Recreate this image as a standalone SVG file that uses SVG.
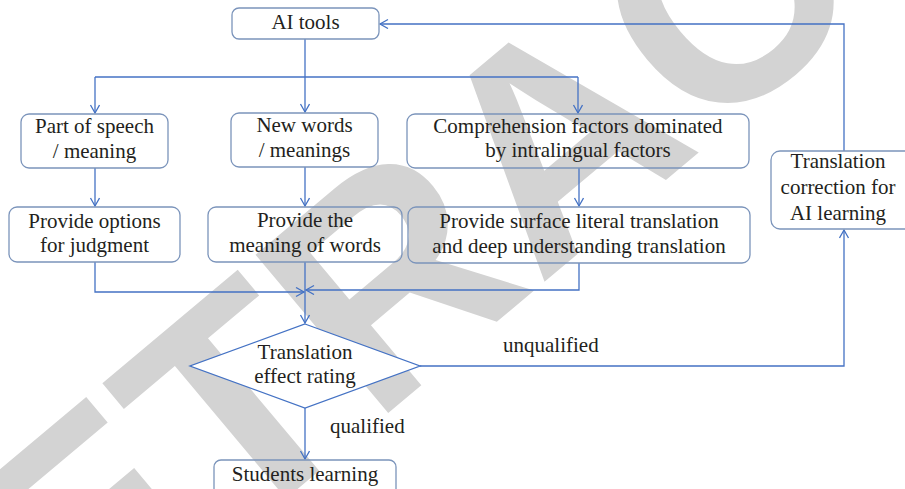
<svg xmlns="http://www.w3.org/2000/svg" width="905" height="489" viewBox="0 0 905 489">
<defs>
<style>
.box{fill:none;stroke:#7b94bb;stroke-width:1.3}
.t{font-family:'Liberation Serif','DejaVu Serif',serif;font-size:21px;fill:#231f20;text-anchor:middle}
.lbl{font-family:'Liberation Serif','DejaVu Serif',serif;font-size:21px;fill:#231f20}
.c{fill:none;stroke:#4472c4;stroke-width:1.3}
.wm{font-family:'Liberation Sans',sans-serif;font-weight:bold;font-size:300px;fill:#d3d3d3;text-anchor:middle}
</style>
<marker id="ah" markerUnits="userSpaceOnUse" markerWidth="12" markerHeight="12" refX="9" refY="5" orient="auto">
<path d="M1,0.5 L9,5 L1,9.5" fill="none" stroke="#4472c4" stroke-width="1.3"/>
</marker>
</defs>
<rect width="905" height="489" fill="#ffffff"/>
<g id="watermark" transform="translate(553,135) rotate(-40)">
<text class="wm" x="0" y="107">RETRACTED</text>
</g>
<g id="connectors">
<polyline class="c" points="305,39 305,77"/>
<polyline class="c" points="95,77 578,77"/>
<polyline class="c" points="95,77 95,113" marker-end="url(#ah)"/>
<polyline class="c" points="305,77 305,112" marker-end="url(#ah)"/>
<polyline class="c" points="578,77 578,113" marker-end="url(#ah)"/>
<polyline class="c" points="95,168 95,206" marker-end="url(#ah)"/>
<polyline class="c" points="305,167 305,206" marker-end="url(#ah)"/>
<polyline class="c" points="579,168 579,206" marker-end="url(#ah)"/>
<polyline class="c" points="95,262 95,292 304,292" marker-end="url(#ah)"/>
<polyline class="c" points="579,263 579,290 306,290" marker-end="url(#ah)"/>
<polyline class="c" points="305,262 305,323" marker-end="url(#ah)"/>
<polyline class="c" points="305,408 305,459" marker-end="url(#ah)"/>
<polyline class="c" points="420,366 844,366 844,230" marker-end="url(#ah)"/>
<polyline class="c" points="844,151 844,24 380,24" marker-end="url(#ah)"/>
</g>
<g id="ai-tools">
<rect class="box" x="232" y="8" width="147" height="31" rx="7"/>
<text class="t" x="305.5" y="29">AI tools</text>
</g>
<g id="part-of-speech">
<rect class="box" x="21" y="114" width="147" height="54" rx="8"/>
<text class="t" x="94.5" y="133">Part of speech</text>
<text class="t" x="94.5" y="158">/ meaning</text>
</g>
<g id="new-words">
<rect class="box" x="231" y="113" width="147" height="54" rx="8"/>
<text class="t" x="304.5" y="132">New words</text>
<text class="t" x="304.5" y="157">/ meanings</text>
</g>
<g id="comprehension">
<rect class="box" x="407" y="114" width="342" height="54" rx="8"/>
<text class="t" x="578" y="133">Comprehension factors dominated</text>
<text class="t" x="578" y="157">by intralingual factors</text>
</g>
<g id="provide-options">
<rect class="box" x="9" y="207" width="171" height="55" rx="8"/>
<text class="t" x="94.5" y="228">Provide options</text>
<text class="t" x="94.5" y="252">for judgment</text>
</g>
<g id="provide-meaning">
<rect class="box" x="208" y="207" width="194" height="55" rx="8"/>
<text class="t" x="305" y="227">Provide the</text>
<text class="t" x="305" y="252">meaning of words</text>
</g>
<g id="provide-surface">
<rect class="box" x="408" y="207" width="342" height="56" rx="8"/>
<text class="t" x="579" y="228">Provide surface literal translation</text>
<text class="t" x="579" y="253">and deep understanding translation</text>
</g>
<g id="translation-correction">
<rect class="box" x="771" y="151" width="145" height="78" rx="9"/>
<text class="t" x="838" y="168">Translation</text>
<text class="t" x="838" y="194">correction for</text>
<text class="t" x="838" y="220">AI learning</text>
</g>
<g id="rating">
<polygon points="305,324 420,366 305,408 190,366" fill="#ffffff" stroke="#4472c4" stroke-width="1.3"/>
<text class="t" x="305" y="359">Translation</text>
<text class="t" x="305" y="383">effect rating</text>
</g>
<g id="students-learning">
<rect class="box" x="214" y="460" width="182" height="40" rx="7"/>
<text class="t" x="305" y="481">Students learning</text>
</g>
<g id="labels">
<text class="lbl" x="330" y="433">qualified</text>
<text class="lbl" x="503" y="352">unqualified</text>
</g>
</svg>
